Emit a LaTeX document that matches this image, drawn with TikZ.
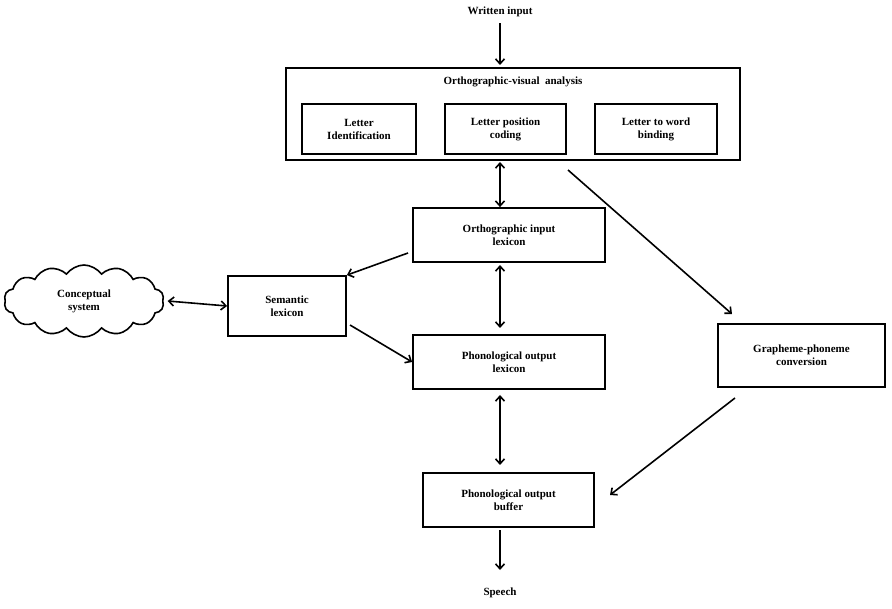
\documentclass[tikz,border=0pt]{standalone}
\usepackage{fontspec}
\setmainfont{Liberation Serif}
\usetikzlibrary{shapes.symbols,arrows.meta}
\begin{document}
\begin{tikzpicture}[x=1pt,y=-1pt,
 box/.style={draw,line width=1.8pt,align=center,font=\bfseries\fontsize{11}{13}\selectfont,inner sep=0pt},
 lab/.style={font=\bfseries\fontsize{11}{13}\selectfont,inner sep=0pt},
 ar/.style={line width=1.6pt,-{Straight Barb[length=5pt,width=9pt]}},
 dar/.style={line width=1.6pt,{Straight Barb[length=5pt,width=9pt]}-{Straight Barb[length=5pt,width=9pt]}}]
\useasboundingbox (0,0) rectangle (892,609);
\node[lab] (win) at (500,12) {Written input};
\node[box,minimum width=454pt,minimum height=92pt] (ova) at (513,114) {};
\node[lab] (ovat) at (513,82) {Orthographic-visual\ \ analysis};
\node[box,minimum width=114pt,minimum height=50pt] (li) at (359,129) {Letter\\Identification};
\node[box,minimum width=121pt,minimum height=50pt] (lp) at (505.5,129) {Letter position\\coding};
\node[box,minimum width=122pt,minimum height=50pt] (lw) at (656,129) {Letter to word\\binding};
\node[box,minimum width=192pt,minimum height=54pt] (oil) at (509,235) {Orthographic input\\lexicon};
\node[box,minimum width=118pt,minimum height=60pt] (sem) at (287,306) {Semantic\\lexicon};
\node[box,minimum width=192pt,minimum height=54pt] (pol) at (509,362) {Phonological output\\lexicon};
\node[box,minimum width=167pt,minimum height=63pt] (gpc) at (801.5,355.5) {Grapheme-phoneme\\conversion};
\node[box,minimum width=171pt,minimum height=54pt] (pob) at (508.5,500) {Phonological output\\buffer};
\node[cloud,draw,line width=1.6pt,cloud puffs=14,cloud puff arc=110,aspect=2.3,minimum width=160pt,minimum height=72pt,align=center,font=\bfseries\fontsize{11}{13}\selectfont,inner sep=0pt] (cs) at (84,301) {Conceptual\\system};
\node[lab] (sp) at (500,593) {Speech};
\coordinate (a1) at (500,65);
\draw[ar] (win.south) ++(0,6) -- (a1);
\draw[dar] (500,162) -- (oil.north -| 500,0);
\draw[ar] (408,253) -- (sem.north east);
\draw[dar] (cs.east) ++(4,0) -- (sem.west) ;
\draw[ar] (350,325) -- (pol.west |- 0,362);
\draw[dar] (500,265) -- (500,328);
\draw[dar] (500,395) -- (500,465);
\draw[ar] (568,170) -- (732,314);
\draw[ar] (735,398) -- (610,495);
\draw[ar] (500,530) -- (500,570);
\end{tikzpicture}
\end{document}
